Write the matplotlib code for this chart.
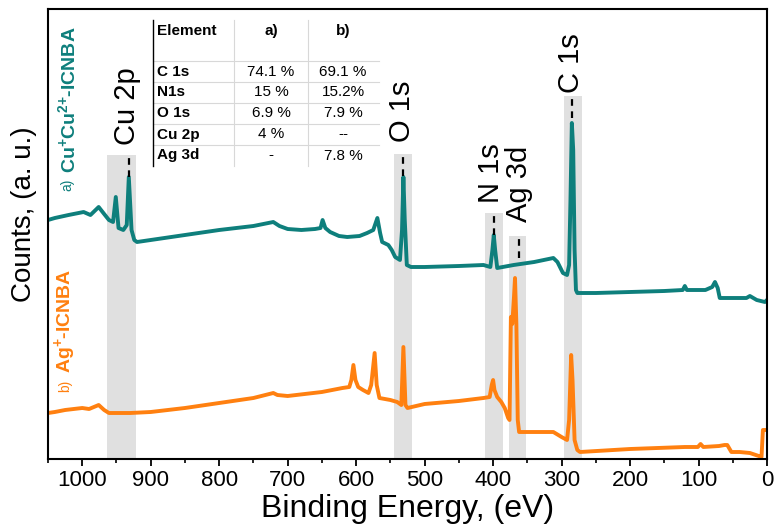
import matplotlib
matplotlib.use("Agg")
import matplotlib.pyplot as plt
from matplotlib.ticker import MultipleLocator

plt.rcParams['font.family'] = ['Liberation Sans', 'DejaVu Sans']
plt.rcParams['mathtext.fontset'] = 'custom'
plt.rcParams['mathtext.rm'] = 'Liberation Sans'
plt.rcParams['mathtext.bf'] = 'Liberation Sans:bold'

# ---------------- data ----------------
# a) Cu+Cu2+-ICNBA survey spectrum (binding energy eV, counts a.u.)
energy_a = [1050, 1040, 1020, 998, 988, 976, 968, 961, 955, 951, 947, 940, 935, 932,
            928, 924, 920, 900, 850, 800, 750, 721, 712, 700, 680, 660, 652, 649, 645,
            638, 625, 613, 595, 584, 575, 569, 565, 562, 553, 548, 543, 536, 533, 531,
            529, 526, 520, 500, 450, 414, 404, 401, 399, 397, 394, 370, 340, 312, 306,
            298, 292, 289, 287, 285, 283, 281, 279, 277, 250, 200, 150, 123, 120, 117,
            101, 90, 80, 76, 72, 69, 50, 30, 25, 15, 3, 0]
counts_a = [239, 241, 244, 247, 244, 252, 245, 239, 237, 262, 231, 229, 234, 282,
            229, 219, 217, 219, 224, 229, 233, 237, 233, 230, 229, 230, 231, 239, 231,
            227, 223, 222, 223, 226, 229, 241, 226, 217, 214, 209, 202, 199, 229, 282,
            239, 194, 192, 192, 193, 194, 192, 209, 224, 209, 191, 194, 197, 201, 197,
            186, 184, 194, 259, 336, 309, 209, 169, 166, 166, 167, 168, 169, 173, 169,
            169, 169, 172, 177, 171, 161, 161, 161, 163, 159, 157, 159]

# b) Ag+-ICNBA survey spectrum
energy_b = [1050, 1040, 1025, 1000, 990, 976, 968, 961, 930, 900, 850, 800, 750, 721,
            715, 700, 650, 620, 610, 607, 604, 601, 597, 590, 582, 578, 573, 570, 566,
            550, 540, 534, 531, 528, 525, 500, 450, 414, 405, 402, 400, 398, 394, 388,
            383, 378, 376, 374, 372, 369.5, 368, 366, 364, 362, 350, 330, 312, 300, 292,
            289, 286, 284, 281, 277, 273, 200, 120, 101, 97, 93, 70, 62, 58, 52, 40, 25,
            12, 8, 6, 2, 0]
counts_b = [46, 47, 49, 51, 50, 54, 49, 46, 46, 47, 51, 56, 61, 66,
            64, 63, 67, 71, 72, 79, 94, 79, 72, 69, 66, 74, 106, 74, 61,
            59, 57, 54, 112, 54, 51, 55, 58, 61, 62, 74, 79, 69, 62, 57,
            51, 41, 39, 142, 135, 162, 181, 135, 39, 27, 27, 27, 27, 22, 19,
            39, 104, 79, 19, 9, 7, 10, 12, 12, 15, 12, 13, 14, 14, 7, 7, 6,
            3, 2, 29, 29, 29]

# highlighted regions
peak_labels = ['Cu 2p', 'O 1s', 'N 1s', 'Ag 3d', 'C 1s']
peak_energy = [932, 531, 399, 362, 285]
band_high = [964, 545, 412, 377, 296]
band_low = [922, 518, 386, 352, 270]
band_top = [304, 305, 246, 223, 363]
label_bottom = [314, 317, 256, 237, 366]
label_x = [934, 533, 403, 362, 286]

# composition table
table_header = ['Element', 'a)', 'b)']
table_elements = ['C 1s', 'N1s', 'O 1s', 'Cu 2p', 'Ag 3d']
table_a = ['74.1 %', '15 %', '6.9 %', '4 %', '-']
table_b = ['69.1 %', '15.2%', '7.9 %', '--', '7.8 %']

teal = '#0e7f7c'
orange = '#ff8010'
band_color = '#e0e0e0'

W, H = 777, 529
fig = plt.figure(figsize=(W / 100, H / 100), dpi=100)
ax = fig.add_axes([48 / W, 1 - 459 / H, 719 / W, 450 / H])

for lab, pe, bh, bl, bt, lb, lx in zip(peak_labels, peak_energy, band_high, band_low,
                                        band_top, label_bottom, label_x):
    ax.fill_between([bl, bh], 0, bt, color=band_color, lw=0, zorder=0)
    ax.plot([pe, pe], [bt - 22, bt + 1], color='black', lw=1.6, ls=(0, (3, 2.5)), zorder=3)
    ax.text(lx, lb, lab, rotation=90, ha='center', va='bottom', fontsize=21, zorder=4)

ax.plot(energy_a, counts_a, color=teal, lw=2.8, zorder=2, solid_joinstyle='round')
ax.plot(energy_b, counts_b, color=orange, lw=2.8, zorder=2, solid_joinstyle='round')

ax.set_xlim(1050, 0)
ax.set_ylim(0, 450)
ax.xaxis.set_major_locator(MultipleLocator(100))
ax.xaxis.set_minor_locator(MultipleLocator(50))
ax.set_yticks([])
ax.tick_params(axis='x', which='major', direction='out', length=5, width=1.3,
               labelsize=16, pad=3)
ax.tick_params(axis='x', which='minor', direction='out', length=3, width=1.2)
for s in ax.spines.values():
    s.set_linewidth(1.5)

ax.set_xlabel('Binding Energy, (eV)', fontsize=23, labelpad=2)
ax.set_ylabel('Counts, (a. u.)', fontsize=20)
ax.yaxis.set_label_coords(-0.033, 0.543)
ax.yaxis.label.set_va('center')

ax.text(1021, 268, 'a)', rotation=90, ha='center', va='bottom', fontsize=10, color=teal)
ax.text(1021, 286, r'$\mathbf{Cu^{{+}}Cu^{2{+}}}$-ICNBA', rotation=90, ha='center',
        va='bottom', fontsize=14, fontweight='bold', color=teal)
ax.text(1025, 67, 'b)', rotation=90, ha='center', va='bottom', fontsize=10, color=orange)
ax.text(1025, 86, r'$\mathbf{Ag^{{+}}}$-ICNBA', rotation=90, ha='center',
        va='bottom', fontsize=14, fontweight='bold', color=orange)

def fx(px):
    return px / W

def fy(py):
    return 1 - py / H

col_edges = [153, 234, 308, 379]
row_edges = [20, 61, 82, 103, 124, 145, 166]
grid = '#d8d8d8'
for ry in row_edges[1:-1]:
    fig.add_artist(plt.Line2D([fx(153), fx(379)], [fy(ry), fy(ry)], color=grid, lw=0.8))
for cx in col_edges[1:3]:
    fig.add_artist(plt.Line2D([fx(cx), fx(cx)], [fy(20), fy(166)], color=grid, lw=0.8))
fig.add_artist(plt.Line2D([fx(153), fx(153)], [fy(20), fy(166)], color='black', lw=1.0))

col_x = [157, 271, 343]
fig.text(fx(col_x[0]), fy(31), table_header[0], ha='left', va='center', fontsize=11,
         fontweight='bold')
fig.text(fx(col_x[1]), fy(31), table_header[1], ha='center', va='center', fontsize=11,
         fontweight='bold')
fig.text(fx(col_x[2]), fy(31), table_header[2], ha='center', va='center', fontsize=11,
         fontweight='bold')
for i, (el, va_, vb_) in enumerate(zip(table_elements, table_a, table_b)):
    yc = (row_edges[i + 1] + row_edges[i + 2]) / 2
    fig.text(fx(col_x[0]), fy(yc), el, ha='left', va='center', fontsize=11, fontweight='bold')
    fig.text(fx(col_x[1]), fy(yc), va_, ha='center', va='center', fontsize=11)
    fig.text(fx(col_x[2]), fy(yc), vb_, ha='center', va='center', fontsize=11)

fig.savefig('out.png', dpi=100)
